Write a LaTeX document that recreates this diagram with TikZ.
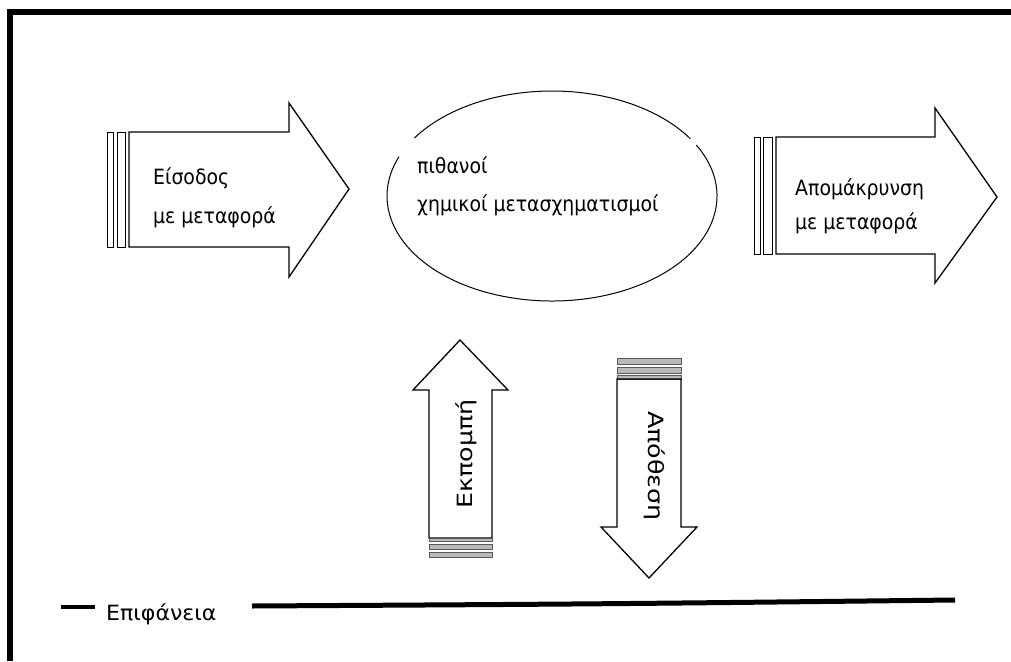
\documentclass[tikz,border=0pt]{standalone}
\usepackage{fontspec}
\setmainfont{DejaVu Sans Condensed}
\begin{document}
\begin{tikzpicture}[x=1pt,y=-1pt,
  outline/.style={draw=black, line width=1.3pt, line join=miter},
  bar/.style={draw=black, line width=1pt, fill=white},
  stripe/.style={draw=gray!70!black, fill=gray!55, line width=0.6pt},
  lbl/.style={font=\fontsize{21}{39}\selectfont, inner sep=0pt, align=left},
  vlbl/.style={font=\fontsize{21}{25}\selectfont, inner sep=0pt}]
\useasboundingbox (0,0) rectangle (1011,661);
% frame
\fill (7,9) rectangle (1011,15);
\fill (7,9) rectangle (13,661);

% left arrow (input)
\draw[bar] (107,132) rectangle (113,247);
\draw[bar] (117,132) rectangle (125,247);
\draw[outline] (129,132) -- (289,132) -- (289,103) -- (349,189) -- (289,277) -- (289,247) -- (129,247) -- cycle;
\node[lbl, anchor=west] (in) at (153,198) {Είσοδος\\με μεταφορά};

% ellipse
\coordinate (ec) at (552,196);
\draw[line width=1pt] ([shift={(-146.5:165 and 105)}]ec) arc[start angle=-146.5, end angle=-33, x radius=165, y radius=105];
\draw[line width=1pt] ([shift={(-29:165 and 105)}]ec) arc[start angle=-29, end angle=202, x radius=165, y radius=105];
\node[lbl, anchor=west, font=\fontsize{21}{38}\selectfont] (proc) at (417,186) {πιθανοί\\χημικοί μετασχηματισμοί};

% right arrow (removal)
\draw[bar] (754,137) rectangle (760,254);
\draw[bar] (763,137) rectangle (772,254);
\draw[outline] (776,137) -- (935,137) -- (935,108) -- (997,197) -- (935,283) -- (935,254) -- (776,254) -- cycle;
\node[lbl, anchor=west, font=\fontsize{21}{34}\selectfont] (out) at (795,206) {Απομάκρυνση\\με μεταφορά};

% up arrow (emission)
\draw[outline] (460,340) -- (508,390) -- (492,390) -- (492,538) -- (429,538) -- (429,390) -- (413,390) -- cycle;
\draw[stripe] (429,538) rectangle (492,541.5);
\draw[stripe] (429,544.5) rectangle (492,549.5);
\draw[stripe] (429,552.5) rectangle (492,557);
\node[vlbl, rotate=90, anchor=base] (em) at (472,454) {\scalebox{1.34}[1]{Εκπομπή}};

% down arrow (deposition)
\draw[stripe] (617,358) rectangle (681,364.5);
\draw[stripe] (617,367) rectangle (681,373);
\draw[stripe] (617,375) rectangle (681,379);
\draw[outline] (617,379) -- (681,379) -- (681,527) -- (697,527) -- (649,578) -- (601,527) -- (617,527) -- cycle;
\node[vlbl, rotate=-90, anchor=base] (dep) at (648,466) {\scalebox{1.34}[1]{Απόθεση}};

% surface
\draw[line width=4.5pt] (61,607) -- (95,607);
\node[vlbl, anchor=base west] (surf) at (106,620) {\scalebox{1.17}[1]{Επιφάνεια}};
\draw[line width=5pt] (252,606) .. controls (600,604) .. (955,600);
\end{tikzpicture}
\end{document}
